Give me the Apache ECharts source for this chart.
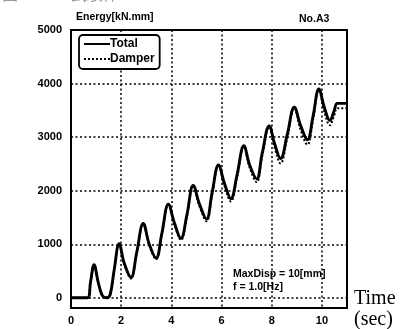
<!DOCTYPE html>
<html>
<head>
<meta charset="utf-8">
<script src="https://cdn.jsdelivr.net/npm/echarts@6/dist/echarts.min.js"></script>
<style>html,body{margin:0;padding:0;background:#fff;}#c{width:407px;height:329px;}</style>
</head>
<body>
<div id="c"></div>
<script>
// Data
var timeTotal = [0, 0.65, 0.78, 0.92, 1.08, 1.25, 1.42, 1.56, 1.72, 1.92, 2.12, 2.39, 2.62, 2.88, 3.12, 3.39, 3.62, 3.88, 4.12, 4.38, 4.62, 4.87, 5.12, 5.40, 5.62, 5.88, 6.12, 6.37, 6.62, 6.89, 7.12, 7.40, 7.62, 7.90, 8.12, 8.35, 8.62, 8.90, 9.15, 9.42, 9.65, 9.88, 10.10, 10.32, 10.48, 10.62, 11.0];
var energyTotal = [0, 0, 300, 620, 300, 40, 0, 60, 520, 1010, 650, 380, 850, 1390, 1000, 740, 1200, 1750, 1400, 1110, 1550, 2100, 1750, 1470, 1950, 2480, 2130, 1850, 2300, 2840, 2480, 2220, 2700, 3210, 2870, 2600, 3050, 3560, 3220, 2950, 3400, 3900, 3550, 3310, 3480, 3630, 3630];
var timeDamper = timeTotal;
var energyDamper = [0, 0, 300, 610, 290, 30, 0, 50, 510, 1000, 630, 360, 830, 1380, 980, 720, 1180, 1740, 1370, 1080, 1520, 2090, 1710, 1430, 1910, 2470, 2090, 1800, 2250, 2830, 2430, 2160, 2640, 3190, 2800, 2510, 2980, 3540, 3140, 2860, 3330, 3880, 3470, 3220, 3390, 3540, 3540];
var xTicks = [0, 2, 4, 6, 8, 10];
var yTicks = [0, 1000, 2000, 3000, 4000, 5000];
var seriesNames = ['Total', 'Damper'];

function pairs(xs, ys) { return xs.map(function (x, i) { return [x, ys[i]]; }); }

var chart = echarts.init(document.getElementById('c'), null, {renderer: 'canvas'});
var font = 'Liberation Sans, Arial, sans-serif';
chart.setOption({
  animation: false,
  backgroundColor: '#ffffff',
  grid: {left: 71, right: 60, top: 30, bottom: 21, show: true, borderColor: '#000', borderWidth: 2, backgroundColor: 'transparent'},
  xAxis: {
    type: 'value', min: 0, max: 11,
    axisLine: {show: false},
    axisTick: {show: false, customValues: xTicks},
    axisLabel: {customValues: xTicks, color: '#000', fontFamily: font, fontWeight: 'bold', fontSize: 11, margin: 7,
      formatter: function (v) { return String(v); }},
    splitLine: {show: true, lineStyle: {color: '#000', type: [2, 2.5], width: 1.5}}
  },
  yAxis: {
    type: 'value', min: -190, max: 5000,
    axisLine: {show: false},
    axisTick: {show: false, customValues: yTicks},
    axisLabel: {customValues: yTicks, color: '#000', fontFamily: font, fontWeight: 'bold', fontSize: 11, margin: 9,
      formatter: function (v) { return String(v); }},
    splitLine: {show: true, lineStyle: {color: '#000', type: [2, 2.5], width: 1.5}}
  },
  legend: {
    left: 79, top: 35, orient: 'vertical',
    data: seriesNames,
    backgroundColor: '#fff', borderColor: '#000', borderWidth: 1.8, borderRadius: 4,
    padding: [3, 5, 4, 4], itemGap: 3, itemWidth: 26, itemHeight: 12,
    itemStyle: {opacity: 0},
    textStyle: {color: '#000', fontFamily: font, fontWeight: 'bold', fontSize: 12, padding: [0, 0, 0, -5]}
  },
  series: [
    {name: seriesNames[1], type: 'line', data: pairs(timeDamper, energyDamper), showSymbol: false, symbol: 'none', smooth: 0.4, z: 2,
      lineStyle: {color: '#000', width: 2, type: [2, 2]}, itemStyle: {color: '#000', opacity: 0}},
    {name: seriesNames[0], type: 'line', data: pairs(timeTotal, energyTotal), showSymbol: false, symbol: 'none', smooth: 0.4, z: 3,
      lineStyle: {color: '#000', width: 2.9}, itemStyle: {color: '#000', opacity: 0}}
  ],
  graphic: [
    {type: 'text', left: 2, top: -14, style: {text: '図 3-6 A3 試験体', font: '16px "Noto Sans CJK JP"', fill: '#999'}},
    {type: 'text', left: 76, top: 12, style: {text: 'Energy[kN.mm]', font: 'bold 10.5px ' + font, fill: '#000'}},
    {type: 'text', left: 299, top: 14, style: {text: 'No.A3', font: 'bold 10.5px ' + font, fill: '#000'}},
    {type: 'text', left: 233, top: 268, style: {text: 'MaxDisp = 10[mm]\nf = 1.0[Hz]', font: 'bold 10.5px ' + font, fill: '#000', lineHeight: 13}},
    {type: 'text', left: 354, top: 288, style: {text: 'Time\n(sec)', font: '20px "Liberation Serif", "Times New Roman", serif', fill: '#000', lineHeight: 21}}
  ]
});
</script>
</body>
</html>
